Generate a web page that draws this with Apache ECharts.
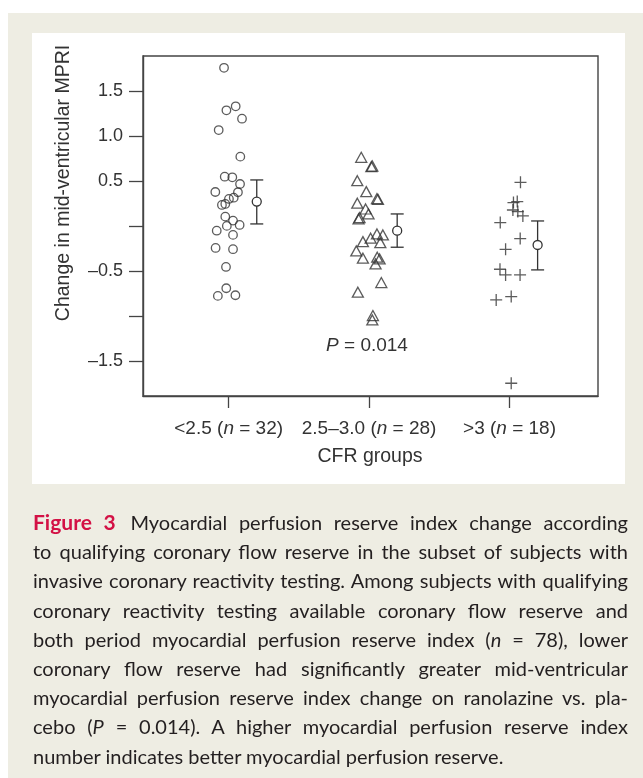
<!DOCTYPE html>
<html>
<head>
<meta charset="utf-8">
<script src="https://cdn.jsdelivr.net/npm/echarts@6/dist/echarts.min.js"></script>
<style>
  html, body { margin: 0; padding: 0; background: #fff; }
  #chart { position: absolute; left: 0; top: 0; width: 643px; height: 778px; }
  #caption {
    position: absolute; left: 33px; top: 507px; width: 595px;
    font-family: Lato, "Open Sans", sans-serif; font-size: 20px; line-height: 29.2px;
    color: #231f20;
  }
  #caption div { text-align: justify; text-align-last: justify; white-space: nowrap; }
  #caption div.last { text-align-last: left; }
  #caption b { color: #d31145; font-weight: 700; font-size: 21px; margin-right: 3px; }
</style>
</head>
<body>
<div id="chart"></div>
<div id="caption">
  <div><b>Figure 3</b> Myocardial perfusion reserve index change according</div>
  <div>to qualifying coronary flow reserve in the subset of subjects with</div>
  <div>invasive coronary reactivity testing. Among subjects with qualifying</div>
  <div>coronary reactivity testing available coronary flow reserve and</div>
  <div>both period myocardial perfusion reserve index (<i>n</i> = 78), lower</div>
  <div>coronary flow reserve had significantly greater mid-ventricular</div>
  <div>myocardial perfusion reserve index change on ranolazine vs. pla-</div>
  <div>cebo (<i>P</i> = 0.014). A higher myocardial perfusion reserve index</div>
  <div class="last">number indicates better myocardial perfusion reserve.</div>
</div>
<script>
// groups on the x axis (1, 2, 3) and their sizes
const groupTicks = [1, 2, 3];
const groupNames = ['<2.5', '2.5\u20133.0', '>3'];
const groupN = [32, 28, 18];

// y ticks (0 and -1.0 have a tick but no label)
const yTicks = [-1.5, -1, -0.5, 0, 0.5, 1, 1.5];
const yTickLabels = ['\u20131.5', '', '\u20130.5', '', '0.5', '1.0', '1.5'];

// jittered points, [x, change in MPRI]
const cfrLow = [
  [0.967, 1.764], [0.984, 1.291], [1.05, 1.336], [1.095, 1.198], [0.929, 1.072],
  [1.083, 0.776], [0.972, 0.553], [1.026, 0.546], [1.081, 0.472], [0.905, 0.383],
  [1.066, 0.38], [1.036, 0.32], [1.002, 0.306], [0.976, 0.25], [0.952, 0.239],
  [0.976, 0.109], [1.031, 0.065], [1.078, 0.017], [0.987, 0.006], [0.915, -0.047],
  [1.031, -0.094], [0.907, -0.239], [1.031, -0.253], [0.981, -0.45], [0.983, -0.687],
  [0.923, -0.772], [1.048, -0.765]
];
const cfrMid = [
  [1.944, 0.769], [2.016, 0.665], [2.023, 0.672], [1.916, 0.509], [1.98, 0.387],
  [2.063, 0.302], [2.056, 0.309], [1.916, 0.258], [1.975, 0.194], [1.996, 0.139],
  [1.925, 0.083], [1.932, 0.098], [2.056, -0.083], [2.098, -0.094], [2.011, -0.131],
  [1.956, -0.169], [2.08, -0.18], [1.909, -0.272], [1.956, -0.353], [2.058, -0.342],
  [2.075, -0.361], [2.046, -0.417], [2.087, -0.624], [1.92, -0.731], [2.027, -0.991],
  [2.023, -1.039]
];
const cfrHigh = [
  [3.078, 0.491], [3.028, 0.265], [3.055, 0.276], [3.024, 0.183], [3.059, 0.165],
  [3.095, 0.117], [2.934, 0.043], [3.076, -0.135], [2.972, -0.254], [2.932, -0.476],
  [2.972, -0.539], [3.075, -0.539], [2.905, -0.817], [3.012, -0.78], [3.012, -1.743]
];

// mean and error bar per group
const meanX = [1.2, 2.2, 3.2];
const meanY = [0.276, -0.047, -0.206];
const barLow = [0.028, -0.231, -0.483];
const barHigh = [0.517, 0.139, 0.061];

const ink = '#333';
const font = '"Liberation Sans", Arial, Helvetica, sans-serif';

const myChart = echarts.init(document.getElementById('chart'));

const errData = meanX.map((x, i) => [x, meanY[i], barLow[i], barHigh[i]]);

const hollow = { color: 'transparent', borderColor: ink, borderWidth: 1.3 };

myChart.setOption({
  animation: false,
  backgroundColor: '#fff',
  graphic: [
    { type: 'rect', z: -10, shape: { x: 8, y: 13, width: 635, height: 765 }, style: { fill: '#eeede3' } },
    { type: 'rect', z: -9, shape: { x: 32, y: 33, width: 593, height: 451 }, style: { fill: '#fff' } },
    {
      type: 'text', x: 64, y: 183, rotation: Math.PI / 2,
      style: { text: 'Change in mid-ventricular MPRI', font: '19.5px ' + font, fill: ink, align: 'center', verticalAlign: 'middle' }
    },
    {
      type: 'text', x: 370, y: 457,
      style: { text: 'CFR groups', font: '19.5px ' + font, fill: ink, align: 'center', verticalAlign: 'middle' }
    },
    {
      type: 'text', x: 367, y: 346,
      style: {
        text: '{i|P} = 0.014', font: '19px ' + font, fill: ink, align: 'center', verticalAlign: 'middle',
        rich: { i: { fontStyle: 'italic', fontSize: 19, fontFamily: font, fill: ink } }
      }
    }
  ],
  grid: {
    left: 143, top: 56, width: 455, height: 340,
    show: true, borderColor: '#444', borderWidth: 1.4, backgroundColor: '#fff'
  },
  xAxis: {
    type: 'value', min: 0.39, max: 3.63,
    splitLine: { show: false },
    axisLine: { show: true, onZero: false, lineStyle: { color: '#444', width: 1.4 } },
    axisTick: { show: true, customValues: groupTicks, length: 12, lineStyle: { color: '#444', width: 1.3 } },
    axisLabel: {
      customValues: groupTicks, margin: 23, fontSize: 19, fontFamily: font, color: ink,
      formatter: (v) => {
        const i = groupTicks.indexOf(v);
        return i < 0 ? '' : groupNames[i] + ' ({i|n} = ' + groupN[i] + ')';
      },
      rich: { i: { fontStyle: 'italic', fontSize: 19, fontFamily: font, color: ink } }
    }
  },
  yAxis: {
    type: 'value', min: -1.885, max: 1.895,
    splitLine: { show: false },
    axisLine: { show: true, onZero: false, lineStyle: { color: '#444', width: 1.4 } },
    axisTick: { show: true, customValues: yTicks, length: 14, lineStyle: { color: '#444', width: 1.3 } },
    axisLabel: {
      customValues: yTicks, margin: 20, fontSize: 18, fontFamily: font, color: ink,
      formatter: (v) => {
        const i = yTicks.findIndex((t) => Math.abs(t - v) < 1e-6);
        return i < 0 ? '' : yTickLabels[i];
      }
    }
  },
  series: [
    { name: groupNames[0], type: 'scatter', data: cfrLow, symbol: 'circle', symbolSize: 8.5, itemStyle: hollow },
    { name: groupNames[1], type: 'scatter', data: cfrMid, symbol: 'triangle', symbolSize: [11, 10], itemStyle: hollow },
    { name: groupNames[2], type: 'scatter', data: cfrHigh, symbol: 'path://M0,6H12M6,0V12', symbolSize: 12, itemStyle: hollow },
    {
      type: 'custom',
      data: errData,
      z: 5,
      renderItem: function (params, api) {
        const x = api.value(0);
        const pm = api.coord([x, api.value(1)]);
        const pl = api.coord([x, api.value(2)]);
        const ph = api.coord([x, api.value(3)]);
        const hw = 6.5;
        const st = { stroke: ink, lineWidth: 1.3, fill: null };
        return {
          type: 'group',
          children: [
            { type: 'line', shape: { x1: pm[0], y1: ph[1], x2: pm[0], y2: pl[1] }, style: st },
            { type: 'line', shape: { x1: pm[0] - hw, y1: ph[1], x2: pm[0] + hw, y2: ph[1] }, style: st },
            { type: 'line', shape: { x1: pm[0] - hw, y1: pl[1], x2: pm[0] + hw, y2: pl[1] }, style: st },
            { type: 'circle', shape: { cx: pm[0], cy: pm[1], r: 4.5 }, style: { stroke: ink, lineWidth: 1.3, fill: '#fff' } }
          ]
        };
      }
    }
  ]
});
</script>
</body>
</html>
